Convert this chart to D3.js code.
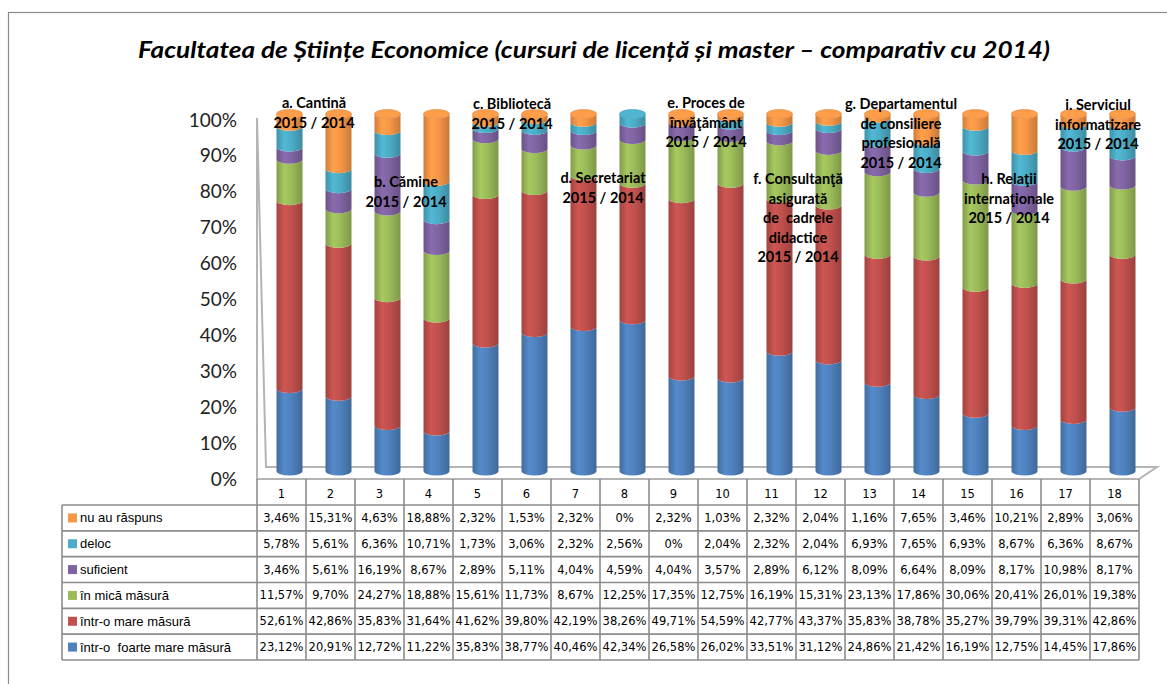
<!DOCTYPE html>
<html>
<head>
<meta charset="utf-8">
<script src="https://cdn.jsdelivr.net/npm/d3@7"></script>
<style>
  body { margin: 0; background: #fff; }
  svg { display: block; }
</style>
</head>
<body>
<div id="chart"></div>
<script>
// categories (table columns) and series, stacked bottom -> top
const categories = d3.range(1, 19).map(String)
const seriesKeys = ['foarteMare', 'mare', 'mica', 'suficient', 'deloc', 'nuAuRaspuns']
const seriesNames = ['într-o  foarte mare măsură', 'într-o mare măsură', 'în mică măsură', 'suficient', 'deloc', 'nu au răspuns']
const seriesColors = ['#4F81BD', '#C0504D', '#9BBB59', '#8064A2', '#4BACC6', '#F79646']

const foarteMare = [23.12, 20.91, 12.72, 11.22, 35.83, 38.77, 40.46, 42.34, 26.58, 26.02, 33.51, 31.12, 24.86, 21.42, 16.19, 12.75, 14.45, 17.86]
const mare = [52.61, 42.86, 35.83, 31.64, 41.62, 39.80, 42.19, 38.26, 49.71, 54.59, 42.77, 43.37, 35.83, 38.78, 35.27, 39.79, 39.31, 42.86]
const mica = [11.57, 9.70, 24.27, 18.88, 15.61, 11.73, 8.67, 12.25, 17.35, 12.75, 16.19, 15.31, 23.13, 17.86, 30.06, 20.41, 26.01, 19.38]
const suficient = [3.46, 5.61, 16.19, 8.67, 2.89, 5.11, 4.04, 4.59, 4.04, 3.57, 2.89, 6.12, 8.09, 6.64, 8.09, 8.17, 10.98, 8.17]
const deloc = [5.78, 5.61, 6.36, 10.71, 1.73, 3.06, 2.32, 2.56, 0, 2.04, 2.32, 2.04, 6.93, 7.65, 6.93, 8.67, 6.36, 8.67]
const nuAuRaspuns = [3.46, 15.31, 4.63, 18.88, 2.32, 1.53, 2.32, 0, 2.32, 1.03, 2.32, 2.04, 1.16, 7.65, 3.46, 10.21, 2.89, 3.06]
const seriesValues = [foarteMare, mare, mica, suficient, deloc, nuAuRaspuns]

const yTicks = [0, 0.1, 0.2, 0.3, 0.4, 0.5, 0.6, 0.7, 0.8, 0.9, 1]

const title = 'Facultatea de Științe Economice (cursuri de licență și master – comparativ cu 2014)'

// one label per pair of bars (2015 / 2014)
const groupLabels = [
  ['a. Cantină', '2015 / 2014'],
  ['b. Cămine', '2015 / 2014'],
  ['c. Bibliotecă', '2015 / 2014'],
  ['d. Secretariat', '2015 / 2014'],
  ['e. Proces de', 'învăţământ', '2015 / 2014'],
  ['f. Consultanţă', 'asigurată', 'de  cadrele', 'didactice', '2015 / 2014'],
  ['g. Departamentul', 'de consiliere', 'profesională', '2015 / 2014'],
  ['h. Relaţii', 'internaţionale', '2015 / 2014'],
  ['i. Serviciul', 'informatizare', '2015 / 2014']
]
// label placement (dx from pair centre, y of first line)
const groupLayout = [
  { dx: 0, y: 103 }, { dx: -6, y: 182 }, { dx: 2, y: 104 }, { dx: -5, y: 178 },
  { dx: 0, y: 103 }, { dx: -6, y: 179 }, { dx: -1, y: 104 }, { dx: 9, y: 179 },
  { dx: 0, y: 105 }
]

const W = 1167, H = 684
const tableLeft = 62, labelRight = 257, tableRight = 1139
const floorFront = 479, headerBottom = 505, tableBottom = 660
const depthX = 8
const rx = 13, ry = 4.5

const svg = d3.select('#chart').append('svg')
  .attr('width', W)
  .attr('height', H)

const defs = svg.append('defs')
seriesColors.forEach((c, i) => {
  const g = defs.append('linearGradient')
    .attr('id', 'cyl' + i)
    .attr('x1', 0).attr('x2', 1).attr('y1', 0).attr('y2', 0)
  const base = d3.color(c)
  g.append('stop').attr('offset', '0%').attr('stop-color', base.darker(0.5))
  g.append('stop').attr('offset', '30%').attr('stop-color', base.brighter(0.2))
  g.append('stop').attr('offset', '58%').attr('stop-color', base)
  g.append('stop').attr('offset', '100%').attr('stop-color', base.darker(0.6))
})

// outer frame
svg.append('rect')
  .attr('x', 8.5).attr('y', 12.5)
  .attr('width', 1200).attr('height', 700)
  .attr('fill', 'none')
  .attr('stroke', '#8a8a8a')
  .attr('stroke-width', 1.2)

svg.append('text')
  .attr('x', 138)
  .attr('y', 58)
  .attr('textLength', 912)
  .attr('lengthAdjust', 'spacingAndGlyphs')
  .style('font', 'italic 700 22px Lato')
  .attr('fill', '#000')
  .text(title)

const x = d3.scaleBand().domain(categories).range([labelRight, tableRight])
const yAxisScale = d3.scaleLinear().domain([0, 1]).range([floorFront, 120])
const yBar = d3.scaleLinear().domain([0, 1]).range([471, 114])

// y axis labels
const yAxis = svg.append('g')
  .attr('transform', 'translate(237,0)')
  .call(d3.axisLeft(yAxisScale).tickValues(yTicks).tickFormat(d3.format('.0%')).tickSize(0).tickPadding(0))
yAxis.select('.domain').remove()
yAxis.selectAll('text')
  .style('font', '19px Lato')
  .attr('fill', '#222')

// 3D floor and left wall
svg.append('path')
  .attr('fill', 'none')
  .attr('stroke', '#b4b4b4')
  .attr('stroke-width', 2)
  .attr('d', `M${labelRight},118 L${labelRight},${floorFront} L${tableRight},${floorFront} L${tableRight + 18},${floorFront - 12} L${labelRight + 9},${floorFront - 12} Z`)

// stacked cylinders
const rows = categories.map((c, i) => {
  const r = { cat: c }
  seriesKeys.forEach((k, s) => { r[k] = seriesValues[s][i] })
  return r
})
const stacked = d3.stack().keys(seriesKeys).offset(d3.stackOffsetExpand)(rows)

function segment (cx, y0, y1) {
  return `M${cx - rx},${y1} L${cx - rx},${y0} A${rx},${ry} 0 0 0 ${cx + rx},${y0} L${cx + rx},${y1} A${rx},${ry} 0 0 1 ${cx - rx},${y1} Z`
}
const cxOf = c => x(c) + x.bandwidth() / 2 + depthX
const topSeries = d => {
  let s = seriesKeys.length - 1
  while (s > 0 && d[seriesKeys[s]] === 0) s--
  return s
}

const bars = svg.append('g')
stacked.forEach((layer, s) => {
  bars.selectAll('path.s' + s)
    .data(layer.filter(d => d[1] - d[0] > 0))
    .join('path')
    .attr('class', 's' + s)
    .attr('fill', `url(#cyl${s})`)
    .attr('d', d => segment(cxOf(d.data.cat), yBar(d[0]), yBar(d[1])))
})

// top caps, coloured after the highest non-empty segment
bars.selectAll('ellipse.cap')
  .data(rows)
  .join('ellipse')
  .attr('class', 'cap')
  .attr('cx', d => cxOf(d.cat))
  .attr('cy', yBar(1))
  .attr('rx', rx)
  .attr('ry', ry)
  .attr('fill', d => d3.color(seriesColors[topSeries(d)]).brighter(0.15))
  .attr('stroke', d => d3.color(seriesColors[topSeries(d)]).darker(0.3))
  .attr('stroke-width', 0.6)

// pair annotations
const ann = svg.append('g')
  .style('font', '700 14.5px Lato')
  .attr('fill', '#000')
  .attr('text-anchor', 'middle')
groupLabels.forEach((lines, g) => {
  const cx = (cxOf(categories[2 * g]) + cxOf(categories[2 * g + 1])) / 2 + groupLayout[g].dx
  const t = ann.append('text')
    .style('white-space', 'pre')
    .attr('x', cx)
    .attr('y', groupLayout[g].y)
  lines.forEach((ln, j) => {
    t.append('tspan').attr('x', cx).attr('dy', j === 0 ? '0.35em' : 19.5).text(ln)
  })
})

// data table
const rowH = (tableBottom - headerBottom) / seriesKeys.length
const tableRows = d3.range(seriesKeys.length).reverse()
const fmt = v => v === 0 ? '0%' : v.toFixed(2).replace('.', ',') + '%'

const table = svg.append('g')
const grid = table.append('g')
  .attr('stroke', '#8c8c8c')
  .attr('stroke-width', 1.6)
  .attr('fill', 'none')

d3.range(seriesKeys.length + 1).forEach(r => {
  grid.append('line')
    .attr('x1', tableLeft).attr('x2', tableRight)
    .attr('y1', headerBottom + r * rowH).attr('y2', headerBottom + r * rowH)
})
grid.append('line')
  .attr('x1', tableLeft).attr('x2', tableLeft)
  .attr('y1', headerBottom).attr('y2', tableBottom)
d3.range(categories.length + 1).forEach(i => {
  const xx = labelRight + i * x.bandwidth()
  grid.append('line')
    .attr('x1', xx).attr('x2', xx)
    .attr('y1', floorFront).attr('y2', tableBottom)
})

table.selectAll('text.head')
  .data(categories)
  .join('text')
  .attr('class', 'head')
  .attr('x', d => x(d) + x.bandwidth() / 2)
  .attr('y', 494)
  .attr('dy', '0.35em')
  .attr('text-anchor', 'middle')
  .style('font', '11.5px "DejaVu Sans"')
  .text(d => d)

tableRows.forEach((s, r) => {
  const yc = headerBottom + (r + 0.5) * rowH
  table.append('rect')
    .attr('x', 68).attr('y', yc - 4.5)
    .attr('width', 9).attr('height', 9)
    .attr('fill', seriesColors[s])
  table.append('text')
    .attr('x', 80).attr('y', yc)
    .attr('dy', '0.35em')
    .style('white-space', 'pre')
    .style('font', '13px "Liberation Sans"')
    .text(seriesNames[s])
  table.selectAll('text.v' + s)
    .data(seriesValues[s])
    .join('text')
    .attr('class', 'v' + s)
    .attr('x', (d, i) => x(categories[i]) + x.bandwidth() / 2)
    .attr('y', yc)
    .attr('dy', '0.35em')
    .attr('text-anchor', 'middle')
    .style('font', '11.5px "DejaVu Sans"')
    .text(fmt)
})
</script>
</body>
</html>
